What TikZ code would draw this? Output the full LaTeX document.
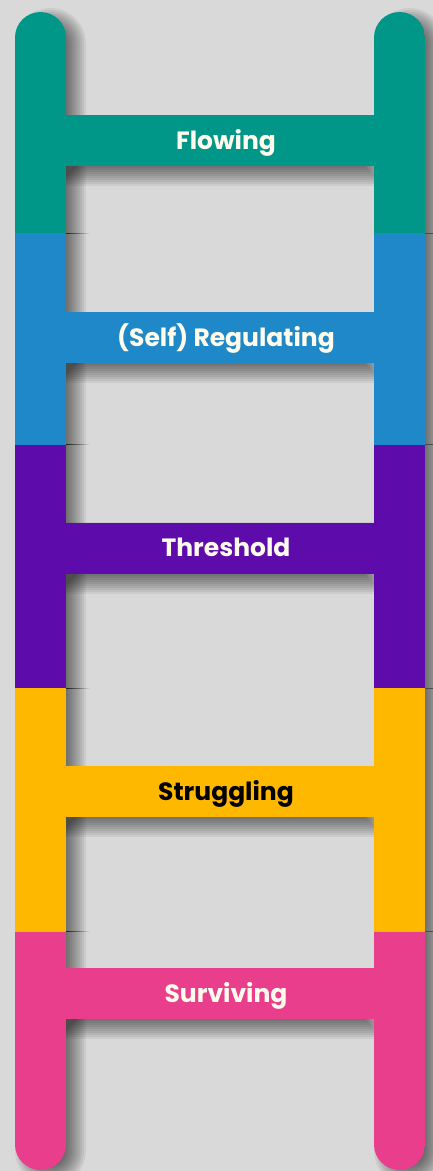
\documentclass[tikz,border=0pt]{standalone}
\usepackage{fontspec}
\setmainfont{Poppins}
\definecolor{bg}{HTML}{D9D9D9}
\definecolor{cteal}{HTML}{009688}
\definecolor{cblue}{HTML}{1E88C8}
\definecolor{cpurple}{HTML}{5E0BAC}
\definecolor{cyellow}{HTML}{FFB800}
\definecolor{cpink}{HTML}{E83E8C}
\definecolor{ctext}{HTML}{FFFCEE}
\begin{document}
\begin{tikzpicture}[x=1pt,y=-1pt,
  rung/.style={minimum width=308pt, minimum height=51pt, inner sep=0pt, outer sep=0pt, draw=none},
  rungtext/.style={font=\bfseries\fontsize{25}{25}\selectfont, text=ctext, inner sep=0pt, anchor=base},
  shadowlayer/.style={fill=black, opacity=0.06}]
% background
\fill[bg] (0,0) rectangle (433,1171);
\useasboundingbox (0,0) rectangle (433,1171);
% soft shadows
\foreach \k in {-10,-8,...,10} {
  \pgfmathsetmacro{\r}{25.5+\k}
  \fill[shadowlayer, rounded corners=\r pt] (25-\k,18-\k) rectangle (76+\k,1176+\k);
  \fill[shadowlayer, rounded corners=\r pt] (384-\k,18-\k) rectangle (435+\k,1176+\k);
  \foreach \ya/\yb in {115/166, 312/363, 522/574, 766/817, 968/1019} {
    \fill[shadowlayer] (66-\k,\ya+10-\k) rectangle (374+\k,\yb+10+\k);
  }
}
% small separator marks
\foreach \y in {233, 444.5, 688, 931.5} {
  \foreach \i in {0,...,11} {
    \pgfmathsetmacro{\op}{0.7*(1-\i/12)}
    \fill[black, opacity=\op] (66+2*\i,\y-0.5) rectangle (68+2*\i,\y+0.5);
  }
  \fill[black!70] (425,\y-0.5) rectangle (433,\y+0.5);
}
% left rail
\begin{scope}
  \clip[rounded corners=25.5pt] (15,12) rectangle (66,1170);
  \fill[cteal] (15,0) rectangle (66,233);
  \fill[cblue] (15,233) rectangle (66,444.5);
  \fill[cpurple] (15,444.5) rectangle (66,688);
  \fill[cyellow] (15,688) rectangle (66,931.5);
  \fill[cpink] (15,931.5) rectangle (66,1171);
\end{scope}
% right rail
\begin{scope}
  \clip[rounded corners=25.5pt] (374,12) rectangle (425,1170);
  \fill[cteal] (374,0) rectangle (425,233);
  \fill[cblue] (374,233) rectangle (425,444.5);
  \fill[cpurple] (374,444.5) rectangle (425,688);
  \fill[cyellow] (374,688) rectangle (425,931.5);
  \fill[cpink] (374,931.5) rectangle (425,1171);
\end{scope}
% rungs
\node[rung, fill=cteal] (flowing) at (220,140.5) {};
\node[rung, fill=cblue] (regulating) at (220,337.5) {};
\node[rung, fill=cpurple] (threshold) at (220,548) {};
\node[rung, fill=cyellow] (struggling) at (220,791.5) {};
\node[rung, fill=cpink] (surviving) at (220,993.5) {};
% labels
\node[rungtext] (flowingtext) at (226,149) {Flowing};
\node[rungtext] (regulatingtext) at (226,346) {(Self) Regulating};
\node[rungtext] (thresholdtext) at (226,556.5) {Threshold};
\node[rungtext, text=black] (strugglingtext) at (226,800) {Struggling};
\node[rungtext] (survivingtext) at (226,1002) {Surviving};
\end{tikzpicture}
\end{document}
